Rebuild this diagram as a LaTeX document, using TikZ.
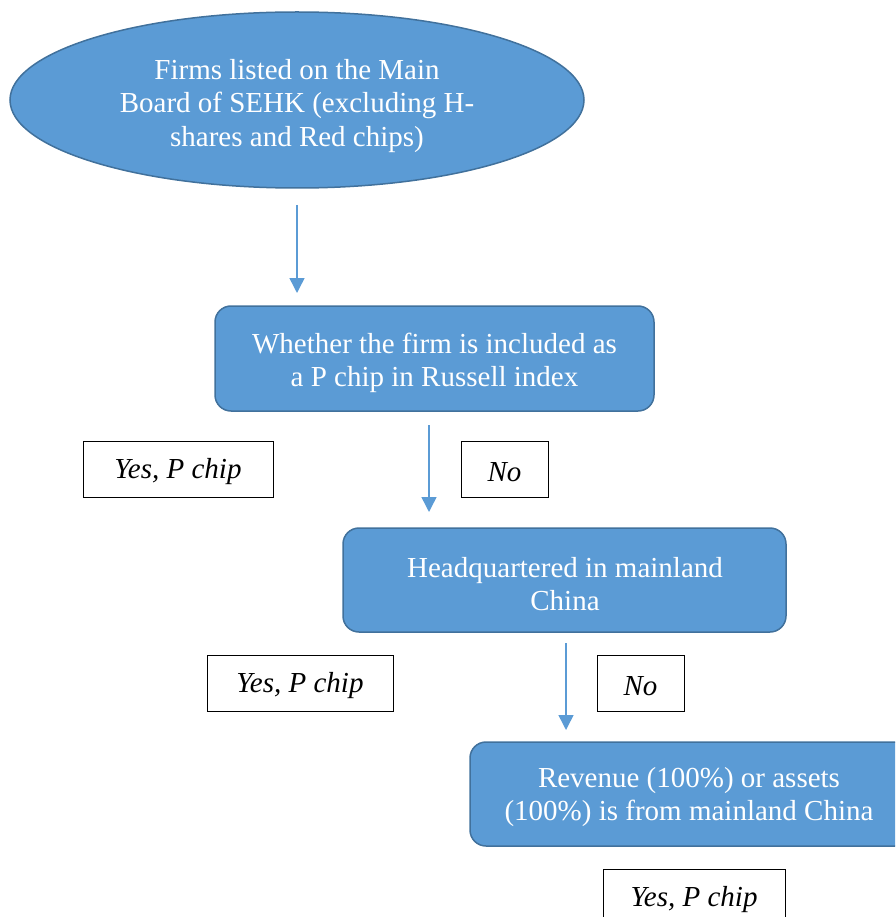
\documentclass[tikz,border=0pt]{standalone}
\usepackage{fontspec}
\setmainfont{Liberation Serif}
\usetikzlibrary{shapes.geometric,arrows.meta}
\definecolor{stepfill}{HTML}{5B9BD5}
\definecolor{stepline}{HTML}{41719C}
\begin{document}
\begin{tikzpicture}[x=1pt,y=-1pt,
  txt/.style={font=\fontsize{29}{33.5}\selectfont, align=center},
  ans/.style={font=\fontsize{29}{33.5}\selectfont\itshape},
  stepbox/.style={draw=stepline, line width=1.5pt, fill=stepfill, rounded corners=16pt},
  answer/.style={draw=black, line width=0.9pt, fill=white},
  flow/.style={draw=stepfill, line width=1.5pt, -{Triangle[width=15pt,length=15pt]}}]
\useasboundingbox (0,0) rectangle (895,917);
\begin{scope}
\clip (0,0) rectangle (895,917);
% start ellipse
\node[ellipse, draw=stepline, line width=1.5pt, fill=stepfill,
      minimum width=574pt, minimum height=176pt, inner sep=0pt] (start) at (297,100) {};
\node[txt, text=white] (starttxt) at (297,106) {Firms listed on the Main\\Board of SEHK (excluding H-\\shares and Red chips)};
% decision boxes
\draw[stepbox] (215,306) rectangle (654,411);
\node[txt, text=white] (q1) at (434.5,363) {Whether the firm is included as\\a P chip in Russell index};
\draw[stepbox] (343,528) rectangle (786,632);
\node[txt, text=white] (q2) at (565,584) {Headquartered in mainland\\China};
\draw[stepbox] (470,742) rectangle (918,846);
\node[txt, text=white] (q3) at (689,797) {Revenue (100\%) or assets\\(100\%) is from mainland China};
% answer boxes
\draw[answer] (83,441) rectangle (273,497);
\node[ans] (y1) at (178,472) {Yes, P chip};
\draw[answer] (461,441) rectangle (548,497);
\node[ans] (n1) at (504.5,472) {No};
\draw[answer] (207,655) rectangle (393,711);
\node[ans] (y2) at (300,686) {Yes, P chip};
\draw[answer] (597,655) rectangle (684,711);
\node[ans] (n2) at (640.5,686) {No};
\draw[answer] (603,869) rectangle (785,930);
\node[ans] (y3) at (694,900) {Yes, P chip};
% connectors
\coordinate (a1s) at (297,205); \coordinate (a1e) at (297,293);
\coordinate (a2s) at (429,425); \coordinate (a2e) at (429,512);
\coordinate (a3s) at (566,643); \coordinate (a3e) at (566,730);
\draw[flow] (a1s) -- (a1e);
\draw[flow] (a2s) -- (a2e);
\draw[flow] (a3s) -- (a3e);
\end{scope}
\end{tikzpicture}
\end{document}
